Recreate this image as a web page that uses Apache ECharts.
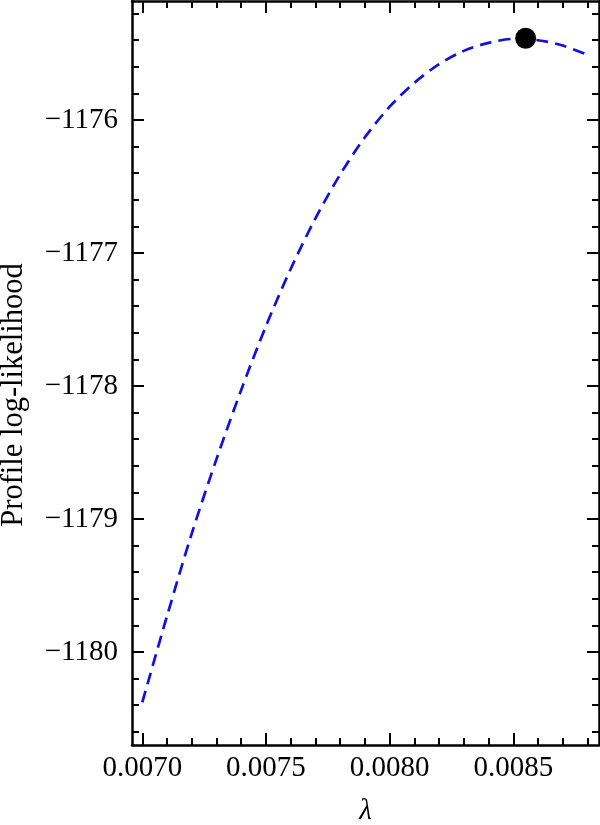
<!DOCTYPE html>
<html>
<head>
<meta charset="utf-8">
<script src="https://cdn.jsdelivr.net/npm/echarts@6/dist/echarts.min.js"></script>
<style>html,body{margin:0;padding:0;background:#fff}#chart{width:600px;height:825px}</style>
</head>
<body>
<div id="chart"></div>
<script>
// Data
var lambdaValues = [0.00700, 0.00710, 0.00720, 0.00730, 0.00740, 0.00750, 0.00760, 0.00770, 0.00780, 0.00790,
                    0.00800, 0.00810, 0.00820, 0.00830, 0.00840, 0.00850, 0.00860, 0.00870, 0.00880];
var profileLogLik = [-1180.38, -1179.73, -1179.11, -1178.55, -1178.03, -1177.55, -1177.12, -1176.74, -1176.41, -1176.13,
                     -1175.90, -1175.72, -1175.58, -1175.48, -1175.42, -1175.39, -1175.40, -1175.44, -1175.51];
var maxPoint = [0.00855, -1175.385];
var xMajorTicks = [0.0070, 0.0075, 0.0080, 0.0085];
var xMinorTicks = [0.0070,0.0071,0.0072,0.0073,0.0074,0.0075,0.0076,0.0077,0.0078,0.0079,0.0080,0.0081,0.0082,0.0083,0.0084,0.0085,0.0086,0.0087,0.0088];
var yMajorTicks = [-1180, -1179, -1178, -1177, -1176];
var yMinorTicks = [-1180.6,-1180.4,-1180.2,-1180,-1179.8,-1179.6,-1179.4,-1179.2,-1179,-1178.8,-1178.6,-1178.4,-1178.2,-1178,-1177.8,-1177.6,-1177.4,-1177.2,-1177,-1176.8,-1176.6,-1176.4,-1176.2,-1176,-1175.8,-1175.6,-1175.4,-1175.2];

var X_MIN = 0.0069584, X_MAX = 0.0088466;
var Y_MIN = -1180.70, Y_MAX = -1175.105;
var FONT = '"Liberation Serif", "DejaVu Serif", serif';

var curve = lambdaValues.map(function (x, i) { return [x, profileLogLik[i]]; });

function xAxisDef(pos, ticks, len, showLine, showLabel) {
  var a = {
    type: 'value', position: pos, min: X_MIN, max: X_MAX, gridIndex: 0,
    splitLine: { show: false },
    axisLine: { show: showLine, onZero: false, lineStyle: { color: '#000', width: 2.5 } },
    axisTick: { show: true, inside: true, length: len, customValues: ticks, lineStyle: { color: '#000', width: 2 } },
    axisLabel: { show: false }
  };
  if (showLabel) {
    a.axisLabel = { show: true, customValues: xMajorTicks, margin: 9, color: '#000', fontFamily: FONT, fontSize: 29,
      formatter: function (v) { return v.toFixed(4); } };
    a.name = 'λ';
    a.nameLocation = 'middle';
    a.nameGap = 52;
    a.nameTextStyle = { color: '#000', fontFamily: FONT, fontSize: 29, fontStyle: 'italic' };
  }
  return a;
}
function yAxisDef(pos, ticks, len, showLine, showLabel) {
  var a = {
    type: 'value', position: pos, min: Y_MIN, max: Y_MAX, gridIndex: 0,
    splitLine: { show: false },
    axisLine: { show: showLine, onZero: false, lineStyle: { color: '#000', width: 2.5 } },
    axisTick: { show: true, inside: true, length: len, customValues: ticks, lineStyle: { color: '#000', width: 2 } },
    axisLabel: { show: false }
  };
  if (showLabel) {
    a.axisLabel = { show: true, customValues: yMajorTicks, margin: 14, color: '#000', fontFamily: FONT, fontSize: 29,
      formatter: function (v) { return (v < 0 ? '\u2212' : '') + Math.abs(v); } };
    a.name = 'Profile log-likelihood';
    a.nameLocation = 'middle';
    a.nameGap = 103;
    a.nameTextStyle = { color: '#000', fontFamily: FONT, fontSize: 30.5, padding: [0, 44, 0, 0] };
  }
  return a;
}

var chart = echarts.init(document.getElementById('chart'), null, { renderer: 'canvas' });
chart.setOption({
  animation: false,
  backgroundColor: '#fff',
  grid: { left: 132, right: 1, top: 1, bottom: 80, containLabel: false, outerBoundsMode: 'none' },
  xAxis: [
    xAxisDef('bottom', xMajorTicks, 12, true, true),
    xAxisDef('bottom', xMinorTicks, 7, false, false),
    xAxisDef('top', xMajorTicks, 12, true, false),
    xAxisDef('top', xMinorTicks, 7, false, false)
  ],
  yAxis: [
    yAxisDef('left', yMajorTicks, 12, true, true),
    yAxisDef('left', yMinorTicks, 7, false, false),
    yAxisDef('right', yMajorTicks, 12, true, false),
    yAxisDef('right', yMinorTicks, 7, false, false)
  ],
  series: [
    {
      type: 'line', xAxisIndex: 0, yAxisIndex: 0, data: curve, smooth: 0.3, showSymbol: false,
      lineStyle: { color: '#1010e0', width: 2.7, type: [12, 7] }
    },
    {
      type: 'scatter', xAxisIndex: 0, yAxisIndex: 0, data: [maxPoint], symbol: 'circle', symbolSize: 21,
      itemStyle: { color: '#000', opacity: 1 }, z: 5
    }
  ]
});
</script>
</body>
</html>
